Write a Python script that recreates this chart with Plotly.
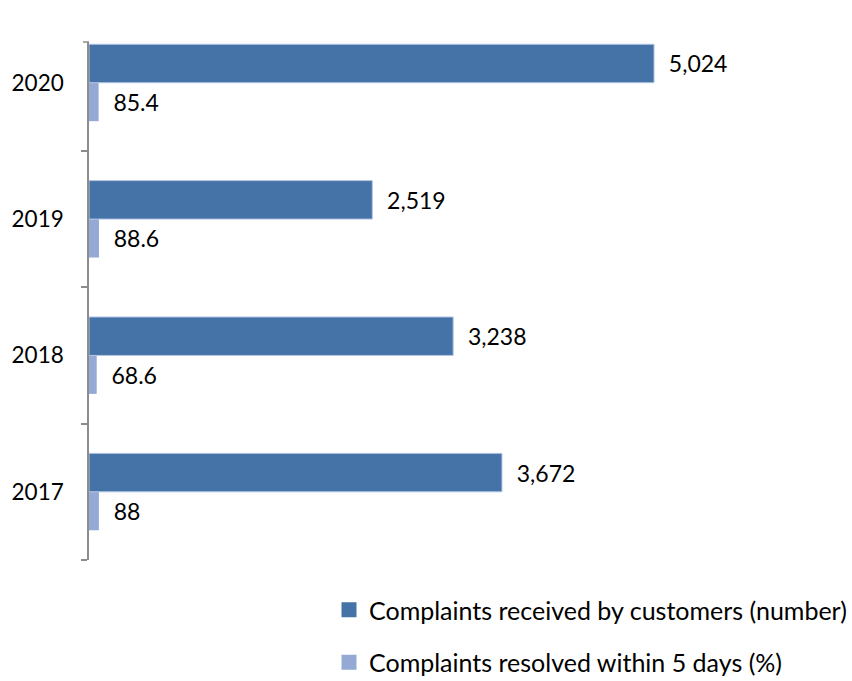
import plotly.graph_objects as go

# Data
years = ["2017", "2018", "2019", "2020"]
complaints_received = [3672, 3238, 2519, 5024]
resolved_within_5_days = [88, 68.6, 88.6, 85.4]
name_received = "Complaints received by customers (number)"
name_resolved = "Complaints resolved within 5 days (%)"

dark_blue = "#4572A7"
light_blue = "#94AAD4"
edge_blue = "#B4C6E4"
axis_grey = "#8C8C8C"
font_family = "Lato, 'Noto Sans', sans-serif"
label_font = dict(size=23, color="black", family=font_family)

fig = go.Figure()

# Percentage bars sit at the lower slot of each year group
fig.add_trace(go.Bar(
    y=years, x=resolved_within_5_days, orientation="h",
    name=name_resolved, showlegend=False,
    marker=dict(color=light_blue, line=dict(width=0)),
    texttemplate="\u00a0\u00a0%{x:,}", textposition="outside",
    textfont=label_font, cliponaxis=False,
))
fig.add_trace(go.Bar(
    y=years, x=complaints_received, orientation="h",
    name=name_received, showlegend=False,
    marker=dict(color=dark_blue, line=dict(width=1, color=edge_blue)),
    texttemplate="\u00a0\u00a0%{x:,}", textposition="outside",
    textfont=label_font, cliponaxis=False,
))

# Legend entries with square swatches
for name, color, rank in [(name_received, dark_blue, 1), (name_resolved, light_blue, 2)]:
    fig.add_trace(go.Scatter(
        x=[None], y=[None], mode="markers", name=name,
        marker=dict(symbol="square", size=15, color=color),
        legendrank=rank, legendgroup=name, showlegend=True,
    ))

fig.update_layout(
    width=852, height=681,
    margin=dict(l=89, r=100, t=42, b=121, autoexpand=False),
    paper_bgcolor="white", plot_bgcolor="white",
    font=dict(family=font_family, size=23, color="black"),
    barmode="group", bargap=0.436, bargroupgap=0,
    showlegend=True,
    legend=dict(
        xref="container", yref="container",
        x=1.0, xanchor="right",
        y=1 - 587 / 681, yanchor="top",
        traceorder="grouped", tracegroupgap=17,
        itemwidth=30,
        font=dict(size=25, family=font_family, color="black"),
        bgcolor="rgba(0,0,0,0)",
    ),
)

fig.update_xaxes(
    range=[0, 5895], autorange=False,
    showticklabels=False, showline=False, ticks="",
    showgrid=False, zeroline=False,
)
fig.update_yaxes(
    type="category", categoryorder="array", categoryarray=years,
    range=[-0.5, 3.2985], autorange=False,
    showline=True, linecolor=axis_grey, linewidth=1.5,
    ticks="outside", tickson="boundaries", ticklen=6,
    tickcolor=axis_grey, tickwidth=1.5,
    ticklabelstandoff=19,
    tickfont=dict(size=22.5, family=font_family, color="black"),
    showgrid=False, zeroline=False,
)

# Tick mark closing the top end of the category axis
fig.add_shape(
    type="line", xref="paper", yref="paper",
    xsizemode="pixel", xanchor=0, x0=-6, x1=0, y0=1, y1=1,
    line=dict(color=axis_grey, width=1.5),
)

fig.write_html("out.html")
